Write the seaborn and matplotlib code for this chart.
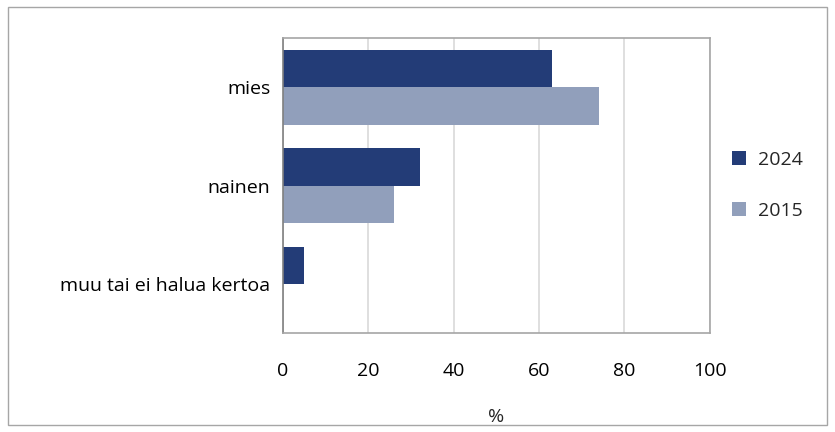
import numpy as np
import pandas as pd
import matplotlib.pyplot as plt
import matplotlib.patches as patches
import seaborn as sns

categories = ['mies', 'nainen', 'muu tai ei halua kertoa']
years = ['2024', '2015']
values_2024 = [63, 32, 5]
values_2015 = [74, 26, np.nan]
colors = ['#233C77', '#919FBB']

df = pd.DataFrame({
    'ryhma': categories * 2,
    'vuosi': [years[0]] * 3 + [years[1]] * 3,
    'arvo': values_2024 + values_2015,
})

sns.set_style('white')
plt.rcParams['font.family'] = ['Open Sans', 'DejaVu Sans']
FS = 14

fig = plt.figure(figsize=(8.35, 4.32), dpi=100)
ax = fig.add_axes([0.339, 0.229, 0.511, 0.683])

sns.barplot(data=df, y='ryhma', x='arvo', hue='vuosi', order=categories,
            hue_order=years, palette=colors, orient='h', width=0.76,
            saturation=1, linewidth=0, ax=ax, legend=True)

ax.set_xlim(0, 100)
ax.set_xticks([0, 20, 40, 60, 80, 100])
ax.xaxis.grid(True, color='#d9d9d9', linewidth=1.2)
ax.set_axisbelow(True)
for s in ax.spines.values():
    s.set_visible(True)
    s.set_color('#a6a6a6')
    s.set_linewidth(1.2)
ax.spines['left'].set_color('#808080')
ax.tick_params(axis='x', direction='out', length=6, width=1, color='#a6a6a6',
               pad=15, labelsize=FS, labelcolor='black')
ax.tick_params(axis='y', length=0, pad=9, labelsize=FS, labelcolor='black')
ax.set_ylabel('')
ax.set_xlabel('%', fontsize=FS, labelpad=20)

handles, labels = ax.get_legend_handles_labels()
ax.legend(handles, labels, loc='center left', bbox_to_anchor=(1.01, 0.5),
          frameon=False, fontsize=FS, handlelength=0.75, handleheight=0.75,
          labelspacing=1.7, handletextpad=0.6)

fig.patches.append(patches.Rectangle((0.009, 0.016), 0.982, 0.968,
                                     transform=fig.transFigure, fill=False,
                                     edgecolor='#a6a6a6', linewidth=1))

fig.savefig('out.png', dpi=100, facecolor='white')
